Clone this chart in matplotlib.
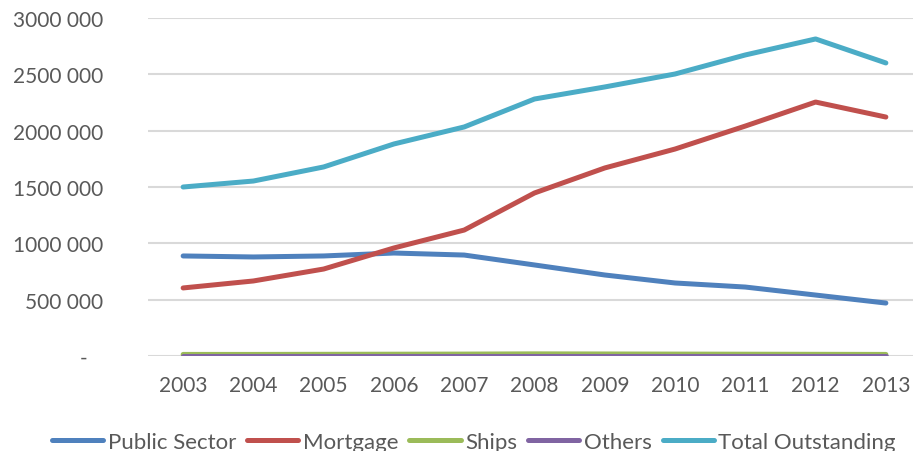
import matplotlib
matplotlib.use("Agg")
import matplotlib.pyplot as plt
from matplotlib.ticker import FuncFormatter

years = ["2003", "2004", "2005", "2006", "2007", "2008", "2009", "2010", "2011", "2012", "2013"]
public_sector = [888000, 879000, 888000, 914000, 896000, 808000, 719000, 648000, 612000, 541000, 470000]
mortgage = [604000, 666000, 772000, 959000, 1118000, 1447000, 1669000, 1837000, 2041000, 2254000, 2121000]
ships = [14000, 14000, 15000, 16000, 17000, 19000, 18000, 17000, 16000, 15000, 14000]
others = [2000, 2000, 2000, 2000, 2000, 2000, 2000, 2000, 2000, 2000, 2000]
total = [1500000, 1553000, 1678000, 1882000, 2033000, 2281000, 2388000, 2503000, 2672000, 2814000, 2601000]

series = [
    ("Public Sector", public_sector, "#4F81BD"),
    ("Mortgage", mortgage, "#C0504D"),
    ("Ships", ships, "#9BBB59"),
    ("Others", others, "#8064A2"),
    ("Total Outstanding", total, "#4BACC6"),
]

plt.rcParams['font.family'] = ['Lato', 'DejaVu Sans']
text_color = "#595959"

fig = plt.figure(figsize=(9.13, 4.52), dpi=100)
ax = fig.add_axes([148/913, 1-357/452, 773/913, (357-19)/452])

x = list(range(len(years)))
handles = []
for name, vals, col in series:
    h, = ax.plot(x, vals, color=col, lw=3.6, solid_capstyle='round', solid_joinstyle='round', label=name)
    handles.append(h)

ax.set_xlim(-0.5, len(years) - 0.5)
ax.set_ylim(0, 3000000)
ax.set_yticks([0, 500000, 1000000, 1500000, 2000000, 2500000, 3000000])

def fmt(v, pos):
    if v == 0:
        return "-   "
    return f"{int(v // 1000)} {int(v % 1000):03d}"

ax.yaxis.set_major_formatter(FuncFormatter(fmt))
ax.set_xticks(x)
ax.set_xticklabels(years)
ax.grid(axis='y', color='#D9D9D9', lw=1.5)
ax.set_axisbelow(True)
for s in ax.spines.values():
    s.set_visible(False)
ax.tick_params(axis='both', length=0, labelsize=15, colors=text_color)
ax.tick_params(axis='y', pad=32)
ax.tick_params(axis='x', pad=14)

fig.legend(handles=handles, loc='center', bbox_to_anchor=(474/913, 9/452), ncol=5, frameon=False,
           fontsize=16, labelcolor=text_color, handlelength=2.3, handletextpad=0.2, columnspacing=0.5,
           borderaxespad=0)

fig.savefig("out.png", dpi=100)
